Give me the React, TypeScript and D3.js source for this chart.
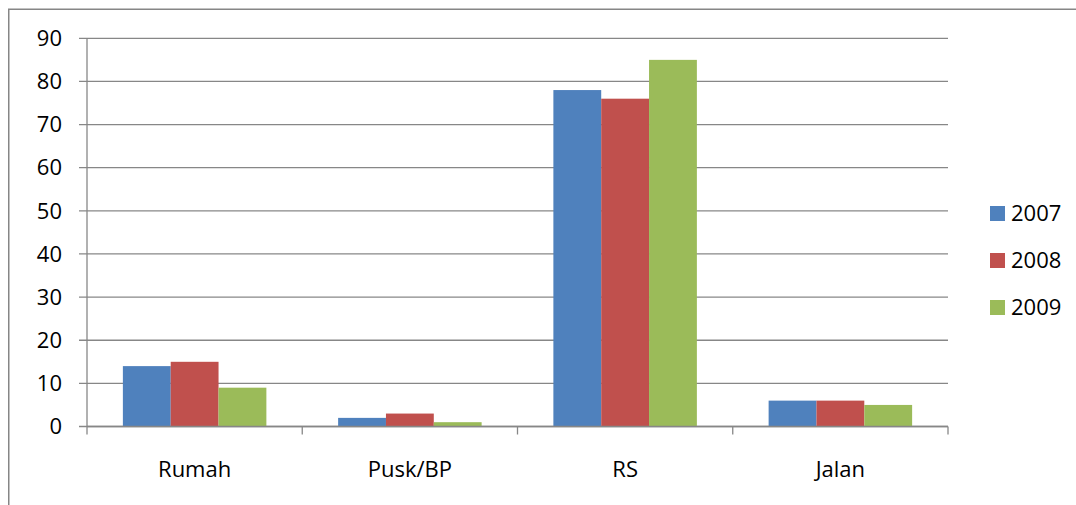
import React from "react";
import * as d3 from "d3";

const categories = ["Rumah", "Pusk/BP", "RS", "Jalan"];
const seriesNames = ["2007", "2008", "2009"];
const values2007 = [14, 2, 78, 6];
const values2008 = [15, 3, 76, 6];
const values2009 = [9, 1, 85, 5];
const yTicks = [0, 10, 20, 30, 40, 50, 60, 70, 80, 90];
const colors = ["#4F81BD", "#C0504D", "#9BBB59"];

const W = 1076;
const H = 505;
const plot = { left: 87, right: 948, top: 38.3, bottom: 426.5 };
const FONT = "'Open Sans', sans-serif";

export default function App() {
  const series = [values2007, values2008, values2009];
  const x = d3.scaleBand<string>().domain(categories).range([plot.left, plot.right]).paddingInner(0).paddingOuter(0);
  const bw = x.bandwidth();
  const barW = bw / (3 + 1.5);
  const gap = (bw - barW * 3) / 2;
  const y = d3.scaleLinear().domain([0, 90]).range([plot.bottom, plot.top]);
  const grid = "#878787";

  return (
    <svg width={W} height={H} style={{ position: "absolute", left: 0, top: 0, background: "#fff" }}>
      <rect x={8.75} y={9.25} width={W + 10} height={H + 10} fill="#fff" stroke="#868686" strokeWidth={1.5} />
      {yTicks.map((t) => (
        <g key={t}>
          <line x1={plot.left - 8} x2={plot.right} y1={y(t)} y2={y(t)} stroke={grid} strokeWidth={1.3} />
          <text x={62} y={y(t)} dy="0.35em" textAnchor="end" fontFamily={FONT} fontSize={22} fill="#000">
            {t}
          </text>
        </g>
      ))}
      <line x1={plot.left} x2={plot.left} y1={plot.top} y2={plot.bottom + 8} stroke={grid} strokeWidth={1.3} />
      {categories.map((c, i) => (
        <line key={"t" + i} x1={x(c)! + bw} x2={x(c)! + bw} y1={plot.bottom} y2={plot.bottom + 8} stroke={grid} strokeWidth={1.3} />
      ))}
      {categories.map((c, i) =>
        series.map((s, j) => (
          <rect
            key={c + j}
            x={x(c)! + gap + j * barW}
            y={y(s[i])}
            width={barW}
            height={y(0) - y(s[i])}
            fill={colors[j]}
          />
        ))
      )}
      <line x1={plot.left} x2={plot.right} y1={y(0)} y2={y(0)} stroke={grid} strokeWidth={1.3} />
      {categories.map((c) => (
        <text key={"l" + c} x={x(c)! + bw / 2} y={477} textAnchor="middle" fontFamily={FONT} fontSize={22} fill="#000">
          {c}
        </text>
      ))}
      {seriesNames.map((n, j) => (
        <g key={n} transform={`translate(990, ${206 + j * 47})`}>
          <rect x={0} y={0} width={15} height={15} fill={colors[j]} />
          <text x={21} y={7.5} dy="0.35em" fontFamily={FONT} fontSize={22} fill="#000">
            {n}
          </text>
        </g>
      ))}
    </svg>
  );
}
